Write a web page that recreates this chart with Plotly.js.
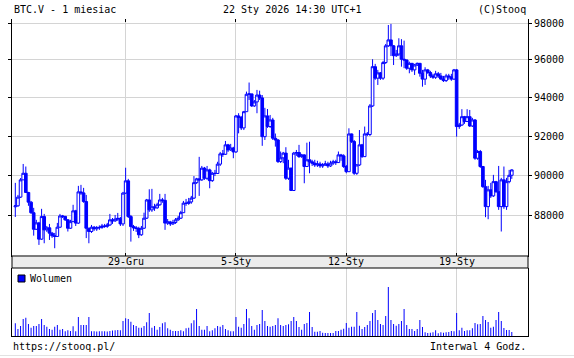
<!DOCTYPE html>
<html><head><meta charset="utf-8">
<script src="https://cdn.plot.ly/plotly-3.0.1.min.js"></script>
<style>html,body{margin:0;padding:0;background:#fff;}#chart{width:574px;height:358px;}</style>
</head><body><div id="chart"></div>
<script>
// 4-hour candles, 22 Dec 2025 00:00 .. 22 Jan 2026 12:00
const openP = [
88450,88500,88930,89790,90120,89160,88680,88160,87350,87660,
86870,87970,87320,87420,87160,87030,87000,87450,88000,87980,
87810,87400,87720,88250,87650,89190,89140,88710,87400,87240,
87450,87370,87420,87440,87510,87490,87560,87810,87760,87850,
87880,87610,89130,89740,87970,87480,87420,87390,87080,87400,
87890,88790,88300,88450,88400,88550,88790,88770,87650,87710,
87610,87680,87810,87890,88160,88630,88620,88690,88880,89650,
89840,89790,90380,89870,90290,89750,90120,90110,90580,91100,
91080,91560,91300,91400,91200,93050,92970,92430,93270,94180,
94200,93570,93780,94140,93990,91980,93050,92500,92840,91900,
91810,90710,90900,91140,89870,90380,89260,91140,91170,90960,
91050,90460,90800,90700,90630,90540,90590,90490,90540,90590,
90490,90630,90700,90660,91050,91000,90460,90200,92120,91730,
90120,90540,91560,90960,92120,92090,93570,95640,95030,95310,
95030,95860,96760,97080,96760,96230,96320,96760,96040,96000,
95560,95820,95470,95730,95820,95290,94980,95470,95330,95150,
95080,95260,95150,94980,94900,95150,95100,94980,95470,92500,
92580,93010,92760,93010,92530,92840,90880,91220,90460,89450,
88460,89290,88990,89700,89200,88460,89790,88460,89700,90020];
const highP = [
89640,89040,89880,90590,90460,89190,88740,88400,87810,87710,
88350,88100,87510,87610,87220,87170,87660,88100,88050,88000,
87850,87810,88550,88300,89490,89540,89390,89040,87420,87560,
87510,87510,87540,87610,87610,87660,88100,87900,88050,88150,
87950,89190,90400,89840,88050,87560,87510,87470,87510,88160,
88840,89320,89340,88600,88650,89090,88890,89090,87850,87760,
87810,87900,88000,88250,88740,88840,88890,88990,89980,89890,
90950,90490,90440,90490,90350,90190,90290,90700,91200,91300,
91760,91610,91610,91460,93100,93190,93050,93310,94320,94800,
94210,93880,94410,94370,94140,93470,93410,93100,92950,92140,
91860,91220,91200,91440,90800,90400,91200,91300,91560,91100,
91080,91670,91720,90800,90800,90750,90700,90640,90750,90700,
90750,90800,90800,91220,91100,91080,90540,92410,92140,91810,
90590,92320,91610,92500,92220,93670,96040,95790,95470,95360,
95950,96860,97890,97950,96800,96540,97170,97120,97040,96020,
95910,95840,95790,95860,95840,95470,95610,95520,95420,95260,
95420,95360,95310,95150,95260,95260,95260,95520,95520,92690,
93400,93050,93400,93360,92950,92890,91300,91300,90490,89790,
89490,89640,90040,89740,90490,89890,90460,89890,90290,90320];
const lowP = [
87950,88450,88890,89790,89140,88500,88100,87040,87320,86590,
86830,86670,87220,86830,86930,86430,86980,87420,87900,87760,
87240,87370,87710,87510,87610,89040,88650,86920,86670,87170,
87270,87270,87320,87370,87420,87420,87510,87610,87710,87760,
87510,87510,89090,87900,86750,87270,87220,86920,87030,87370,
87850,88200,88200,88250,88350,88500,88650,87320,87560,87510,
87560,87610,87760,87850,88150,88500,88550,88600,88840,89590,
88990,89740,89790,89790,89370,89690,89980,90090,90490,90950,
91050,91200,91250,90880,91150,92150,92320,92320,93260,93880,
93520,93520,93190,93880,91510,91810,92430,92430,91810,91470,
90640,90640,90630,89790,89790,89240,89240,91000,90900,90900,
89620,90440,90120,90490,90440,90440,90390,90390,90490,90390,
90440,90540,90540,90640,90750,90390,90120,90190,91660,90040,
90040,90490,90900,90950,92010,92010,93520,94940,94670,94940,
94940,95790,96700,96210,95730,96160,96210,95640,95560,95470,
95290,95360,95200,95680,95110,94580,94670,95260,95040,94990,
94990,95040,94940,94830,94830,94940,94890,94940,91980,92380,
92530,92640,92740,92480,92480,90800,90800,90390,89390,87940,
87840,88890,88940,89140,88300,87240,88350,88300,89620,89840];
const closeP = [
88500,88930,89790,90120,89160,88680,88160,87350,87660,86870,
87970,87320,87420,87160,87030,87000,87450,88000,87980,87810,
87400,87720,88250,87650,89190,89140,88710,87400,87240,87450,
87370,87420,87440,87510,87490,87560,87810,87760,87850,87880,
87610,89130,89740,87970,87480,87420,87390,87080,87400,87890,
88790,88300,88450,88400,88550,88790,88770,87650,87710,87610,
87680,87810,87890,88160,88630,88620,88690,88880,89650,89840,
89790,90380,89870,90290,89750,90120,90110,90580,91100,91080,
91560,91300,91400,91200,93050,92970,92430,93270,94180,94200,
93570,93780,94140,93990,91980,93050,92500,92840,91900,91810,
90710,90900,91140,89870,90380,89260,91140,91170,90960,91050,
90460,90800,90700,90630,90540,90590,90490,90540,90590,90490,
90630,90700,90660,91050,91000,90460,90200,92120,91730,90120,
90540,91560,90960,92120,92090,93570,95640,95030,95310,95030,
95860,96760,97080,96760,96230,96320,96760,96040,96000,95560,
95820,95470,95730,95820,95290,94980,95470,95330,95150,95080,
95260,95150,94980,94900,95150,95100,94980,95470,92500,92580,
93010,92760,93010,92530,92840,90880,91220,90460,89450,88460,
89290,88990,89700,89200,88460,89790,88460,89700,90020,90290];
// volume (relative units, no scale shown on the chart)
const volume = [
127,70,100,170,183,120,83,100,100,120,
170,110,93,70,63,93,110,63,70,47,
57,50,97,47,190,110,110,110,190,47,
47,45,47,47,47,45,50,55,57,60,
57,150,177,170,143,110,100,83,83,100,
137,230,83,100,63,90,127,137,77,63,
50,50,50,57,47,77,83,127,157,270,
100,63,63,100,47,57,77,100,93,110,
70,57,47,47,190,93,83,120,270,177,
100,63,110,120,260,150,100,93,100,110,
177,110,100,110,117,150,190,150,90,63,
120,130,240,90,43,43,50,33,30,30,
30,30,50,50,63,73,130,83,93,93,
240,103,70,90,110,150,230,260,160,120,
110,200,490,160,120,103,120,150,270,110,
70,70,50,70,160,90,37,30,33,37,
57,27,37,33,37,40,50,47,230,57,
83,50,57,57,77,130,117,120,200,160,
140,83,93,160,240,150,80,60,60,40];
const dateTickIdx = [42, 84, 126, 168];
const dateTickLabels = ['29-Gru', '5-Sty', '12-Sty', '19-Sty'];
const priceTicks = [88000, 90000, 92000, 94000, 96000, 98000];
const headerLeft = 'BTC.V - 1 miesiac';
const headerMid = '22 Sty 2026 14:30 UTC+1';
const headerRight = '(C)Stooq';
const footerLeft = 'https://stooq.pl/';
const footerRight = 'Interwal 4 Godz.';
const volumeLabel = 'Wolumen';

const idx = closeP.map((_, i) => i);
const FONT = {family: 'DejaVu Sans Mono, monospace', size: 10, color: '#000'};
const BLUE = '#0000ff';
const GRID = '#d4d4d4';
const xr = [-1.26, 195.17];
const volTop = 0.2145, priceBot = 0.2524;

const traces = [
  {type: 'candlestick', x: idx, open: openP, high: highP, low: lowP, close: closeP,
   xaxis: 'x', yaxis: 'y', whiskerwidth: 0, hoverinfo: 'skip', showlegend: false,
   increasing: {line: {color: BLUE, width: 1}, fillcolor: '#ffffff'},
   decreasing: {line: {color: BLUE, width: 1}, fillcolor: BLUE}},
  {type: 'bar', x: idx, y: volume, xaxis: 'x2', yaxis: 'y2', width: 0.38,
   marker: {color: BLUE, line: {width: 0}}, hoverinfo: 'skip', showlegend: false},
  {type: 'scatter', x: idx, y: closeP, xaxis: 'x3', yaxis: 'y', mode: 'none',
   hoverinfo: 'skip', showlegend: false}
];

const ann = [];
dateTickIdx.forEach((v, k) => ann.push({xref: 'x', yref: 'paper', x: v, y: (volTop + priceBot) / 2,
  text: dateTickLabels[k], showarrow: false, xanchor: 'center', yanchor: 'middle', font: FONT}));
const py = p => (336 - p) / 317, px = p => (p - 12) / 516;
ann.push({xref: 'paper', yref: 'paper', x: px(12), y: py(10), text: headerLeft, showarrow: false, xanchor: 'left', yanchor: 'middle', font: FONT});
ann.push({xref: 'paper', yref: 'paper', x: px(292), y: py(10), text: headerMid, showarrow: false, xanchor: 'center', yanchor: 'middle', font: FONT});
ann.push({xref: 'paper', yref: 'paper', x: 1, y: py(10), text: headerRight, showarrow: false, xanchor: 'right', yanchor: 'middle', font: FONT});
ann.push({xref: 'paper', yref: 'paper', x: px(11), y: py(346), text: footerLeft, showarrow: false, xanchor: 'left', yanchor: 'middle', font: FONT});
ann.push({xref: 'paper', yref: 'paper', x: 1, y: py(346), text: footerRight, showarrow: false, xanchor: 'right', yanchor: 'middle', font: FONT});
ann.push({xref: 'paper', yref: 'paper', x: px(27.5), y: py(278.5), text: volumeLabel, showarrow: false, xanchor: 'left', yanchor: 'middle', font: FONT});

const layout = {
  width: 574, height: 358, margin: {l: 12, r: 46, t: 19, b: 22},
  paper_bgcolor: '#fff', plot_bgcolor: '#fff', showlegend: false,
  boxgap: 0, boxgroupgap: 0,
  xaxis: {domain: [0, 1], anchor: 'y', range: xr, tickmode: 'array', tickvals: dateTickIdx,
    showticklabels: false, ticks: 'inside', ticklen: 3, tickcolor: '#000', showgrid: true, gridcolor: GRID,
    showline: true, linecolor: '#000', linewidth: 1, zeroline: false, rangeslider: {visible: false}, fixedrange: true},
  xaxis3: {overlaying: 'x', anchor: 'y', side: 'top', range: xr, tickmode: 'array', tickvals: dateTickIdx,
    showticklabels: false, ticks: 'inside', ticklen: 3, tickcolor: '#000', showgrid: false, showline: false, zeroline: false, fixedrange: true},
  yaxis: {domain: [priceBot, 1], anchor: 'x', type: 'log', range: [4.934786, 4.992195], side: 'right',
    tickmode: 'array', tickvals: priceTicks, ticktext: priceTicks.map(String), tickfont: FONT,
    ticks: 'outside', ticklen: 3, tickcolor: '#000', showgrid: true, gridcolor: GRID,
    showline: true, linecolor: '#000', linewidth: 1, mirror: 'ticks', zeroline: false, fixedrange: true},
  xaxis2: {domain: [0, 1], anchor: 'y2', range: xr, tickmode: 'array', tickvals: dateTickIdx,
    showticklabels: false, ticks: '', showgrid: true, gridcolor: GRID,
    showline: true, linecolor: '#000', linewidth: 1, zeroline: false, fixedrange: true},
  yaxis2: {domain: [0, volTop], anchor: 'x2', range: [0, 680], showticklabels: false, ticks: '',
    showgrid: false, showline: true, mirror: true, linecolor: '#000', linewidth: 1, zeroline: false, fixedrange: true},
  shapes: [
    {type: 'rect', xref: 'paper', yref: 'paper', x0: 0, x1: 1, y0: volTop, y1: priceBot,
     fillcolor: '#ececec', line: {color: '#000', width: 1}, layer: 'above'},
    {type: 'rect', xref: 'paper', yref: 'paper', x0: px(18), x1: px(25), y0: py(282), y1: py(275),
     fillcolor: BLUE, line: {color: '#000', width: 1}, layer: 'above'},
    {type: 'line', xref: 'paper', yref: 'paper', x0: px(0), x1: px(574), y0: py(355.5), y1: py(355.5),
     line: {color: '#e2e2e2', width: 1}}
  ],
  annotations: ann
};
Plotly.newPlot('chart', traces, layout, {staticPlot: true, displayModeBar: false});
</script></body></html>
